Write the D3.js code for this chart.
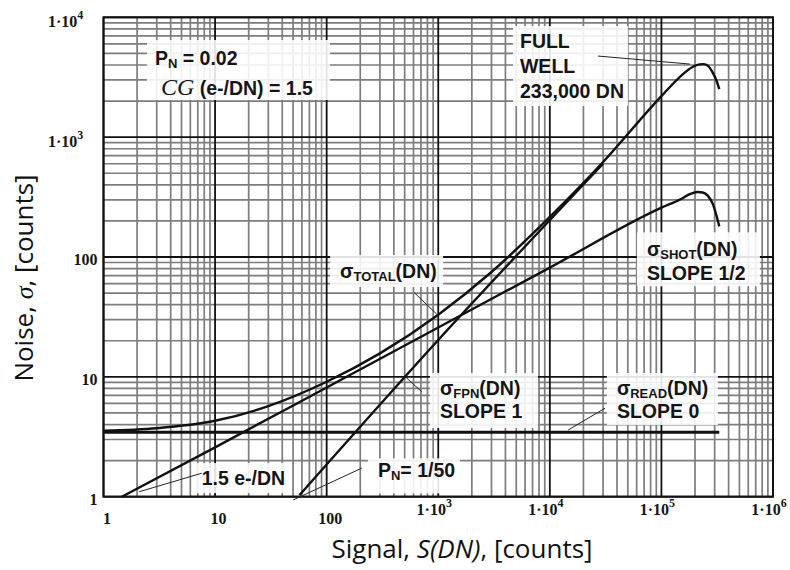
<!DOCTYPE html>
<html>
<head>
<meta charset="utf-8">
<script src="https://cdn.jsdelivr.net/npm/d3@7"></script>
<style>
  body { margin: 0; background: #fff; }
  .lbl { font-family: "Liberation Sans", Arial, sans-serif; font-weight: bold; font-size: 19.5px; fill: #151515; }
  .tick-lbl { font-family: "Liberation Serif", "Times New Roman", serif; font-weight: bold; font-size: 16px; fill: #151515; }
  .axis-title { font-family: "Open Sans", sans-serif; font-size: 26px; fill: #111; }
</style>
</head>
<body>
<svg id="chart" width="790" height="570"></svg>
<script>
// DATA
const readSignal = [1, 330000];
const readNoise = [3.45, 3.45];

const shotSignal = [1.46, 10, 100, 1000, 10000, 100000, 150000, 180000, 210000, 235000, 260000, 290000, 310000, 330000];
const shotNoise  = [1, 2.58, 8.16, 25.8, 81.6, 258, 305, 335, 349, 345, 325, 275, 225, 180];

const fpnSignal = [57, 1000, 30000];
const fpnNoise  = [1.03, 20.3, 600];

const totalSignal = [1, 3, 10, 30, 100, 300, 1000, 3000, 10000, 30000, 100000, 150000, 190000, 220000, 240000, 260000, 290000, 310000, 330000];
const totalNoise  = [3.55, 3.73, 4.3, 5.7, 9.1, 15.7, 33, 75, 216, 620, 2200, 3250, 3850, 4050, 4070, 3950, 3420, 3000, 2520];

const xTicks = [1, 10, 100, 1e3, 1e4, 1e5, 1e6];
const xTickBase = ["1", "10", "100", "1\u00b710", "1\u00b710", "1\u00b710", "1\u00b710"];
const xTickExp  = ["", "", "", "3", "4", "5", "6"];

const yTicks = [1, 10, 100, 1e3, 1e4];
const yTickBase = ["1", "10", "100", "1\u00b710", "1\u00b710"];
const yTickExp  = ["", "", "", "3", "4"];

// SETUP
const margin = { top: 17.3, left: 103.5 },
      width = 669.5,
      height = 479.4;

const svg = d3.select("#chart");
const g = svg.append("g").attr("transform", `translate(${margin.left},${margin.top})`);

const x = d3.scaleLog().domain([1, 1e6]).range([0, width]);
const y = d3.scaleLog().domain([1, 1e4]).range([height, 0]);

const isDecade = v => Math.abs(Math.log10(v) - Math.round(Math.log10(v))) < 1e-9;

// GRID
const xGrid = x.ticks();
const yGrid = y.ticks();

g.selectAll(".vgrid").data(xGrid.filter(v => !isDecade(v))).enter().append("line")
  .attr("x1", d => x(d)).attr("x2", d => x(d)).attr("y1", 0).attr("y2", height)
  .attr("stroke", "#7d7d7d").attr("stroke-width", 1.7);
g.selectAll(".hgrid").data(yGrid.filter(v => !isDecade(v))).enter().append("line")
  .attr("y1", d => y(d)).attr("y2", d => y(d)).attr("x1", 0).attr("x2", width)
  .attr("stroke", "#7d7d7d").attr("stroke-width", 1.7);

g.selectAll(".vmaj").data(xTicks).enter().append("line")
  .attr("x1", d => x(d)).attr("x2", d => x(d)).attr("y1", 0).attr("y2", height)
  .attr("stroke", "#111").attr("stroke-width", 1.8);
g.selectAll(".hmaj").data(yTicks).enter().append("line")
  .attr("y1", d => y(d)).attr("y2", d => y(d)).attr("x1", 0).attr("x2", width)
  .attr("stroke", "#111").attr("stroke-width", 1.8);

g.append("rect").attr("width", width).attr("height", height)
  .attr("fill", "none").attr("stroke", "#111").attr("stroke-width", 2);

// TICK LABELS
xTicks.forEach((v, i) => {
  const sci = xTickExp[i] !== "";
  const t = g.append("text").attr("class", "tick-lbl")
    .attr("x", x(v) + (sci ? -4 : 3.5))
    .attr("y", height + (sci ? 18 : 27))
    .attr("text-anchor", "middle")
    .text(xTickBase[i]);
  if (sci) t.append("tspan").attr("dy", -8).style("font-size", "12px").text(xTickExp[i]);
});

yTicks.forEach((v, i) => {
  const sci = yTickExp[i] !== "";
  const t = g.append("text").attr("class", "tick-lbl")
    .attr("x", sci ? 48 - margin.left : -6)
    .attr("y", y(v) + (sci ? 10 : 8))
    .attr("text-anchor", sci ? "start" : "end")
    .text(yTickBase[i]);
  if (sci) t.append("tspan").attr("dy", -8).style("font-size", "12px").text(yTickExp[i]);
});

// ANNOTATION BOXES + TEXT
// anchor in data units, box offsets in px from the anchor
const annotations = [
  { ax: 2.89, ay: 4000, box: [-8, -25, 183, 60], lines: [
      { dy: 0, parts: [["P"], ["N", "sub"], [" = 0.02"]] },
      { dy: 30, dx: 6, parts: [["CG", "cg"], [" (e-/DN) = 1.5"]] } ] },
  { ax: 5400, ay: 2120, box: [-7, -72, 115, 80], lines: [
      { dy: -50, parts: [["FULL"]] },
      { dy: -25, parts: [["WELL"]] },
      { dy: 0, parts: [["233,000 DN"]] } ] },
  { ax: 132, ay: 66.8, box: [-10, -23, 113, 32], lines: [
      { dy: 0, parts: [["\u03c3"], ["TOTAL", "sub"], ["(DN)"]] } ] },
  { ax: 74100, ay: 99.4, box: [-10, -25, 123, 54], lines: [
      { dy: -1, parts: [["\u03c3"], ["SHOT", "sub"], ["(DN)"]] },
      { dy: 23, parts: [["SLOPE 1/2"]] } ] },
  { ax: 1036, ay: 6.92, box: [-10, -23, 108, 55], lines: [
      { dy: -1, parts: [["\u03c3"], ["FPN", "sub"], ["(DN)"]] },
      { dy: 22, parts: [["SLOPE 1"]] } ] },
  { ax: 39900, ay: 6.92, box: [-10, -23, 111, 52], lines: [
      { dy: -1, parts: [["\u03c3"], ["READ", "sub"], ["(DN)"]] },
      { dy: 22, parts: [["SLOPE 0"]] } ] },
  { ax: 7.59, ay: 1.25, box: [-5, -22, 94, 30], lines: [
      { dy: 0, parts: [["1.5 e-/DN"]] } ] },
  { ax: 288, ay: 1.45, box: [-10, -19, 92, 35], lines: [
      { dy: 0, parts: [["P"], ["N", "sub"], ["= 1/50"]] } ] }
];

// leader lines, data units [x1, y1, x2, y2]
const leaders = [
  [27000, 4750, 180000, 4070],
  [610, 50.4, 968, 33.4],
  [514, 9.9, 710, 7.52],
  [14600, 3.6, 31200, 5.47],
  [2.09, 1.1, 7.59, 1.57],
  [50.2, 0.94, 206, 1.73]
];

const boxLayer = g.append("g");
const curveLayer = g.append("g");
const textLayer = g.append("g");

annotations.forEach(a => {
  const px = x(a.ax), py = y(a.ay);
  boxLayer.append("rect")
    .attr("x", px + a.box[0]).attr("y", py + a.box[1])
    .attr("width", a.box[2]).attr("height", a.box[3])
    .attr("fill", "#fff").attr("opacity", 0.88);
  a.lines.forEach(l => {
    const t = textLayer.append("text").attr("class", "lbl")
      .attr("x", px + (l.dx || 0)).attr("y", py + l.dy);
    let shifted = false;
    l.parts.forEach(([s, kind]) => {
      const ts = t.append("tspan").text(s);
      if (kind === "sub") {
        ts.attr("dy", 3).style("font-size", "13px");
        shifted = true;
      } else {
        if (shifted) { ts.attr("dy", -3); shifted = false; }
        if (kind === "cg") {
          ts.style("font-family", "'Liberation Serif', serif")
            .style("font-style", "italic").style("font-weight", "normal")
            .style("font-size", "24px");
        }
      }
    });
  });
});

// CURVES
const line = d3.line()
  .x(d => x(d[0]))
  .y(d => y(d[1]))
  .curve(d3.curveMonotoneX);

const series = [
  { sx: readSignal, sy: readNoise, w: 3 },
  { sx: shotSignal, sy: shotNoise, w: 2.4 },
  { sx: fpnSignal, sy: fpnNoise, w: 2.4 },
  { sx: totalSignal, sy: totalNoise, w: 2.4 }
];

series.forEach(s => {
  curveLayer.append("path")
    .datum(s.sx.map((v, i) => [v, s.sy[i]]))
    .attr("d", line)
    .attr("fill", "none")
    .attr("stroke", "#111")
    .attr("stroke-width", s.w);
});

textLayer.selectAll(".leader").data(leaders).enter().append("line")
  .attr("x1", d => x(d[0])).attr("y1", d => y(d[1]))
  .attr("x2", d => x(d[2])).attr("y2", d => y(d[3]))
  .attr("stroke", "#222").attr("stroke-width", 1);

// AXIS TITLES
const xt = svg.append("text").attr("class", "axis-title")
  .attr("x", 462).attr("y", 558).attr("text-anchor", "middle");
xt.append("tspan").text("Signal, ");
xt.append("tspan").style("font-style", "italic").text("S(DN)");
xt.append("tspan").text(", [counts]");

const yt = svg.append("text").attr("class", "axis-title")
  .attr("transform", "rotate(-90)")
  .attr("x", -278).attr("y", 33).attr("text-anchor", "middle");
yt.append("tspan").text("Noise, ");
yt.append("tspan").style("font-style", "italic").style("font-family", "'Liberation Serif', serif").text("\u03c3");
yt.append("tspan").text(", [counts]");
</script>
</body>
</html>
